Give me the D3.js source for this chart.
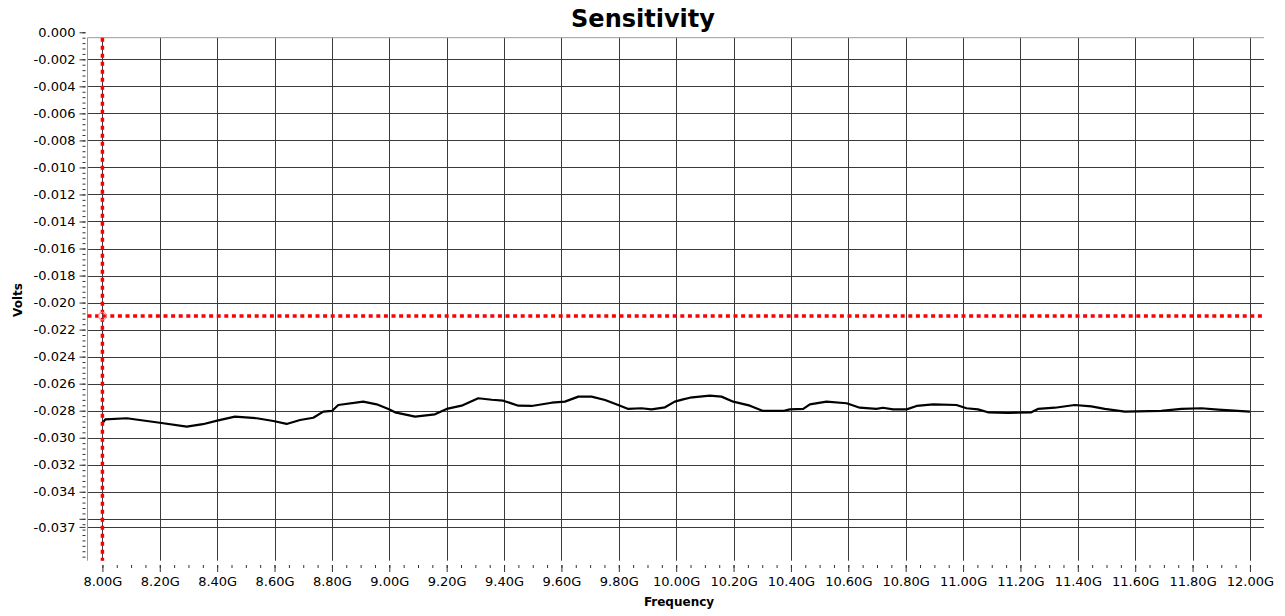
<!DOCTYPE html>
<html>
<head>
<meta charset="utf-8">
<title>Sensitivity</title>
<script src="https://cdnjs.cloudflare.com/ajax/libs/d3/7.8.5/d3.min.js"></script>
<style>
body { margin: 0; background: #fff; }
svg text { font-family: "DejaVu Sans", Verdana, sans-serif; fill: #000; }
</style>
</head>
<body>
<svg id="chart" width="1285" height="616"></svg>
<script>
//
// Data (frequency in GHz, sensitivity in volts)
//
var freqs = [8.000, 8.010, 8.085, 8.200, 8.294, 8.350, 8.400, 8.462, 8.538, 8.596,
    8.642, 8.689, 8.735, 8.770, 8.800, 8.822, 8.909, 8.956, 8.997, 9.020,
    9.090, 9.159, 9.200, 9.252, 9.310, 9.357, 9.397, 9.450, 9.496, 9.566,
    9.612, 9.659, 9.705, 9.752, 9.798, 9.833, 9.879, 9.914, 9.961, 9.995,
    10.024, 10.048, 10.117, 10.158, 10.199, 10.257, 10.303, 10.373, 10.396, 10.443,
    10.466, 10.524, 10.594, 10.640, 10.698, 10.721, 10.756, 10.803, 10.838, 10.896,
    10.977, 11.012, 11.052, 11.087, 11.157, 11.238, 11.261, 11.320, 11.389, 11.447,
    11.494, 11.564, 11.691, 11.761, 11.831, 11.889, 11.958, 12.000];

var volts = [-0.02893, -0.02864, -0.02856, -0.02889, -0.02918, -0.02900, -0.02874, -0.02844, -0.02856, -0.02876,
    -0.02898, -0.02869, -0.02852, -0.02807, -0.02802, -0.02758, -0.02733, -0.02753, -0.02787, -0.02812,
    -0.02844, -0.02827, -0.02787, -0.02763, -0.02708, -0.02719, -0.02726, -0.02763, -0.02765, -0.02741,
    -0.02733, -0.02696, -0.02696, -0.02721, -0.02758, -0.02787, -0.02782, -0.02790, -0.02775, -0.02733,
    -0.02716, -0.02704, -0.02689, -0.02696, -0.02733, -0.02763, -0.02802, -0.02802, -0.02790, -0.02787,
    -0.02753, -0.02733, -0.02745, -0.02778, -0.02787, -0.02778, -0.02790, -0.02790, -0.02765, -0.02753,
    -0.02758, -0.02782, -0.02790, -0.02812, -0.02817, -0.02812, -0.02787, -0.02778, -0.02758, -0.02768,
    -0.02787, -0.02807, -0.02802, -0.02787, -0.02782, -0.02792, -0.02802, -0.02807];

var xTickValues = [8.0, 8.2, 8.4, 8.6, 8.8, 9.0, 9.2, 9.4, 9.6, 9.8, 10.0,
    10.2, 10.4, 10.6, 10.8, 11.0, 11.2, 11.4, 11.6, 11.8, 12.0];
var xTickLabels = ["8.00G", "8.20G", "8.40G", "8.60G", "8.80G", "9.00G", "9.20G", "9.40G", "9.60G", "9.80G", "10.00G",
    "10.20G", "10.40G", "10.60G", "10.80G", "11.00G", "11.20G", "11.40G", "11.60G", "11.80G", "12.00G"];

var yTickValues = [0, -0.002, -0.004, -0.006, -0.008, -0.010, -0.012, -0.014, -0.016, -0.018,
    -0.020, -0.022, -0.024, -0.026, -0.028, -0.030, -0.032, -0.034, -0.036, -0.0366];
var yTickLabels = ["0.000", "-0.002", "-0.004", "-0.006", "-0.008", "-0.010", "-0.012", "-0.014", "-0.016", "-0.018",
    "-0.020", "-0.022", "-0.024", "-0.026", "-0.028", "-0.030", "-0.032", "-0.034", "", "-0.037"];

var cursorFreq = 8.0;
var cursorVolts = -0.021;

//
// Layout
//
var plot = { left: 87.5, right: 1264, top: 37.7, bottom: 560.7 };
var svg = d3.select("#chart");

var x = d3.scaleLinear().domain([7.948, 12.049]).range([plot.left, plot.right]);
var y = d3.scaleLinear().domain([-0.0004, -0.0391]).range([plot.top, plot.bottom]);

// title
svg.append("text")
    .attr("x", 643).attr("y", 27)
    .attr("text-anchor", "middle")
    .style("font-size", "24px").style("font-weight", "bold")
    .text("Sensitivity");

// grid
var grid = svg.append("g").attr("stroke", "#3a3a3a").attr("stroke-width", 1);
grid.selectAll(".vgrid").data(xTickValues).enter().append("line")
    .attr("x1", function(d) { return Math.round(x(d)) + 0.5; })
    .attr("x2", function(d) { return Math.round(x(d)) + 0.5; })
    .attr("y1", plot.top).attr("y2", plot.bottom);
grid.selectAll(".hgrid").data(yTickValues.filter(function(d) { return d < -0.0004; })).enter().append("line")
    .attr("x1", plot.left).attr("x2", plot.right)
    .attr("y1", function(d) { return Math.round(y(d)) + 0.5; })
    .attr("y2", function(d) { return Math.round(y(d)) + 0.5; });

// frame (left + top)
svg.append("path")
    .attr("d", "M" + plot.left + "," + plot.bottom + "V" + plot.top + "H" + plot.right)
    .attr("fill", "none").attr("stroke", "#9a9a9a").attr("stroke-width", 1);

// y axis
var yMinor = d3.range(0, -0.0389, -0.0004);
var yMinorAxis = svg.append("g").attr("transform", "translate(85.5,0)")
    .call(d3.axisLeft(y).tickValues(yMinor).tickSize(3).tickFormat(""));
var yAxis = svg.append("g").attr("transform", "translate(85.5,0)")
    .call(d3.axisLeft(y).tickValues(yTickValues).tickSize(6).tickPadding(4)
        .tickFormat(function(d, i) { return yTickLabels[i]; }));

// x axis
var xMinor = d3.range(8.0, 12.001, 0.05);
var xMinorAxis = svg.append("g").attr("transform", "translate(0,565)")
    .call(d3.axisBottom(x).tickValues(xMinor).tickSize(3).tickFormat(""));
var xAxis = svg.append("g").attr("transform", "translate(0,565)")
    .call(d3.axisBottom(x).tickValues(xTickValues).tickSize(7).tickPadding(5)
        .tickFormat(function(d, i) { return xTickLabels[i]; }));

[yMinorAxis, yAxis, xMinorAxis, xAxis].forEach(function(a) {
    a.select(".domain").remove();
    a.selectAll(".tick line").attr("stroke", "#333");
    a.selectAll(".tick text").style("font-size", "13px").attr("fill", "#000");
});

// axis names
svg.append("text")
    .attr("x", 679).attr("y", 606)
    .attr("text-anchor", "middle")
    .style("font-size", "12px").style("font-weight", "bold")
    .text("Frequency");
svg.append("text")
    .attr("transform", "translate(22,300) rotate(-90)")
    .attr("text-anchor", "middle")
    .style("font-size", "12px").style("font-weight", "bold")
    .text("Volts");

// data line
var line = d3.line()
    .x(function(d) { return x(d); })
    .y(function(d, i) { return y(volts[i]); });
svg.append("path")
    .datum(freqs)
    .attr("d", line)
    .attr("fill", "none")
    .attr("stroke", "#000")
    .attr("stroke-width", 2.2)
    .attr("stroke-linejoin", "round");

// cursor
var cur = svg.append("g").attr("stroke", "#ff0000").attr("stroke-width", 3.5).attr("stroke-dasharray", "4,4");
cur.append("line")
    .attr("x1", x(cursorFreq)).attr("x2", x(cursorFreq))
    .attr("y1", plot.top).attr("y2", plot.bottom);
cur.append("line")
    .attr("x1", plot.left).attr("x2", plot.right)
    .attr("y1", y(cursorVolts)).attr("y2", y(cursorVolts))
    .attr("stroke-dasharray", "4,3.6");
svg.append("circle")
    .attr("cx", x(cursorFreq)).attr("cy", y(cursorVolts)).attr("r", 4)
    .attr("fill", "none").attr("stroke", "#ff9090").attr("stroke-width", 1);
</script>
</body>
</html>
